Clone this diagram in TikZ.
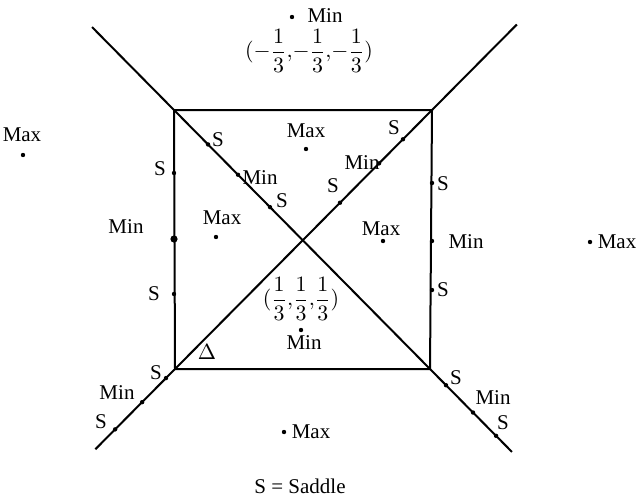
\documentclass[tikz,border=0pt]{standalone}
\usepackage{fontspec}
\setmainfont{Liberation Serif}
\usetikzlibrary{calc}
\begin{document}
\begin{tikzpicture}[
        x=0.5pt, y=-0.5pt,
        lbl/.style={inner sep=0pt, font=\fontsize{10.5}{12}\selectfont},
        pt/.style={circle, fill=black, inner sep=0pt, minimum size=2.2pt},
        bigpt/.style={circle, fill=black, inner sep=0pt, minimum size=3.6pt},
        edge/.style={line width=1pt}
      ]
        \useasboundingbox (0,0) rectangle (641,503);

        \coordinate (tl) at (174,110);
        \coordinate (tr) at (432,110);
        \coordinate (bl) at (175,369);
        \coordinate (br) at (430,369);
        \coordinate (ul) at ($(tl)!-0.32!(br)$);
        \coordinate (lr) at ($(tl)!1.32!(br)$);
        \coordinate (ur) at ($(tr)!-0.33!(bl)$);
        \coordinate (ll) at ($(tr)!1.31!(bl)$);

        \draw[edge] (tl) -- (tr) -- (br) -- (bl) -- cycle;
        \draw[edge] (ul) -- (lr);
        \draw[edge] (ur) -- (ll);

        \node[pt] (dtop) at (292,17) {};
        \node[lbl] (ltop) at (325,16) {Min};
        \node[lbl] (ftop) at (309,51) {$\displaystyle(-\frac{1}{3},\!-\frac{1}{3},\!-\frac{1}{3})$};
        \node[pt] (dwest) at (23,155) {};
        \node[lbl] (lwest) at (22,135) {Max};
        \node[pt] (deast) at (590,242) {};
        \node[lbl] (least) at (617,242) {Max};
        \node[pt] (dsouth) at (284,432) {};
        \node[lbl] (lsouth) at (311,432) {Max};
        \node[lbl] (key) at (300,486) {S = Saddle};

        \node[pt] (dl1) at (174,173) {};
        \node[bigpt] (dl2) at (174,239) {};
        \node[pt] (dl3) at (174,294) {};
        \node[lbl] at (160,169) {S};
        \node[lbl] at (126,227) {Min};
        \node[lbl] at (154,294) {S};

        \node[pt] (dr1) at (432,183) {};
        \node[pt] (dr2) at (432,241) {};
        \node[pt] (dr3) at (432,290) {};
        \node[lbl] at (443,184) {S};
        \node[lbl] at (466,242) {Min};
        \node[lbl] at (443,290) {S};

        \node[pt] (din1) at (306,149) {};
        \node[lbl] at (306,131) {Max};
        \node[pt] (din2) at (216,237) {};
        \node[lbl] at (222,218) {Max};
        \node[pt] (din3) at (383,241) {};
        \node[lbl] at (381,229) {Max};
        \node[lbl] (fmid) at (301,299) {$\displaystyle(\frac{1}{3},\!\frac{1}{3},\!\frac{1}{3})$};
        \node[pt] (din4) at (301,330) {};
        \node[lbl] at (304,343) {Min};
        \node[lbl] (delta) at (207,352) {$\Delta$};

        \node[pt] (da1) at ($(tl)!0.133!(br)$) {};
        \node[pt] (da2) at ($(tl)!0.25!(br)$) {};
        \node[pt] (da3) at ($(tl)!0.375!(br)$) {};
        \node[lbl] at (218,140) {S};
        \node[lbl] at (260,178) {Min};
        \node[lbl] at (282,201) {S};

        \node[pt] (db1) at ($(tr)!0.113!(bl)$) {};
        \node[pt] (db2) at ($(tr)!0.206!(bl)$) {};
        \node[pt] (db3) at ($(tr)!0.358!(bl)$) {};
        \node[lbl] at (394,128) {S};
        \node[lbl] at (362,163) {Min};
        \node[lbl] at (333,186) {S};

        \node[pt] (dc1) at ($(tr)!1.035!(bl)$) {};
        \node[pt] (dc2) at ($(tr)!1.128!(bl)$) {};
        \node[pt] (dc3) at ($(tr)!1.233!(bl)$) {};
        \node[lbl] at (156,373) {S};
        \node[lbl] at (117,393) {Min};
        \node[lbl] at (101,422) {S};

        \node[pt] (de1) at ($(tl)!1.0625!(br)$) {};
        \node[pt] (de2) at ($(tl)!1.168!(br)$) {};
        \node[pt] (de3) at ($(tl)!1.258!(br)$) {};
        \node[lbl] at (456,378) {S};
        \node[lbl] at (493,398) {Min};
        \node[lbl] at (503,423) {S};
      \end{tikzpicture}
\end{document}
